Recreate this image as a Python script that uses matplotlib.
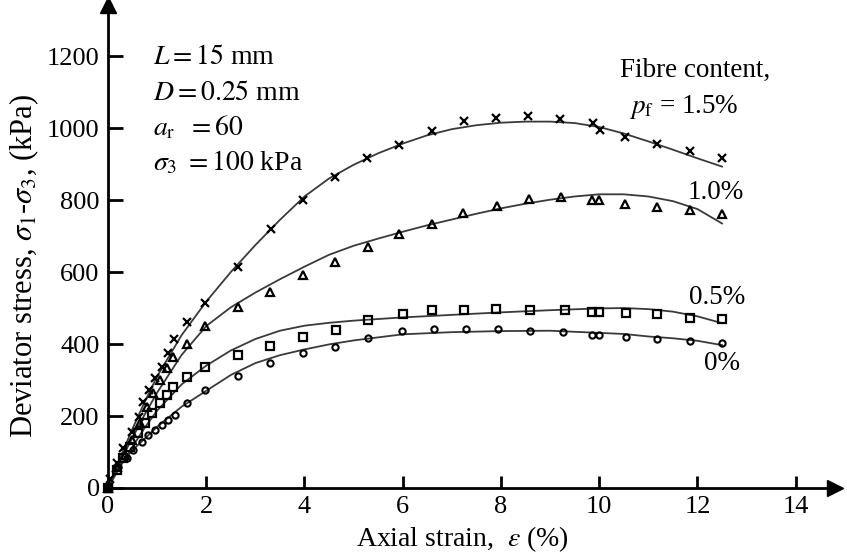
import numpy as np
import matplotlib
matplotlib.use("Agg")
import matplotlib.pyplot as plt

plt.rcParams['font.family'] = ['Liberation Serif', 'DejaVu Serif']
plt.rcParams['mathtext.fontset'] = 'stix'

# ---- measured points (read from the figure) ----
# pf = 1.5 %  (x markers)
x15 = [0, 0.05, 0.18, 0.31, 0.49, 0.63, 0.71, 0.84, 0.96, 1.1, 1.22, 1.34, 1.61, 1.98, 2.65, 3.32,
       3.97, 4.62, 5.27, 5.93, 6.6, 7.25, 7.9, 8.55, 9.2, 9.88, 10.02, 10.53, 11.18, 11.85, 12.5]
y15 = [0, 25, 69, 111, 156, 197, 239, 272, 305, 336, 375, 414, 461, 514, 614, 719,
       800, 864, 917, 953, 992, 1019, 1028, 1033, 1025, 1014, 994, 975, 955, 936, 917]
# pf = 1.0 %  (triangles)
x10 = [0, 0.18, 0.35, 0.49, 0.65, 0.79, 0.92, 1.06, 1.2, 1.32, 1.61, 1.98, 2.65, 3.3,
       3.97, 4.62, 5.3, 5.93, 6.6, 7.23, 7.92, 8.57, 9.23, 9.86, 10.0, 10.53, 11.18, 11.85, 12.5]
y10 = [0, 58, 92, 133, 181, 225, 264, 300, 333, 364, 400, 450, 503, 544,
       592, 628, 669, 706, 733, 764, 783, 803, 808, 800, 800, 789, 781, 772, 761]
# pf = 0.5 %  (squares)
x05 = [0, 0.18, 0.31, 0.45, 0.61, 0.75, 0.9, 1.06, 1.2, 1.32, 1.61, 1.98, 2.65, 3.3, 3.97,
       4.64, 5.3, 6.0, 6.6, 7.25, 7.9, 8.6, 9.3, 9.86, 10.0, 10.55, 11.18, 11.85, 12.5]
y05 = [0, 50, 83, 115, 153, 181, 208, 236, 258, 281, 308, 336, 369, 394, 420,
       439, 467, 483, 494, 494, 497, 494, 494, 489, 489, 486, 483, 472, 469]
# pf = 0 %  (circles)
x00 = [0, 0.2, 0.39, 0.51, 0.69, 0.81, 0.96, 1.1, 1.22, 1.36, 1.61, 1.98, 2.65, 3.3, 3.97,
       4.62, 5.3, 5.99, 6.64, 7.29, 7.94, 8.6, 9.27, 9.86, 10.0, 10.55, 11.18, 11.85, 12.5]
y00 = [0, 58, 83, 106, 128, 147, 161, 175, 189, 203, 236, 272, 311, 347, 375,
       392, 417, 436, 442, 442, 442, 436, 433, 425, 425, 419, 414, 408, 403]

# ---- fitted curves ----
cx15 = [0, 0.25, 0.5, 0.75, 1, 1.5, 2, 2.5, 3, 3.5, 4, 4.5, 5, 5.5, 6, 6.5, 7, 7.5, 8,
        8.5, 9, 9.5, 10, 10.5, 11, 11.5, 12, 12.5]
cy15 = [0, 85, 165, 240, 310, 425, 518, 600, 675, 745, 810, 860, 898, 930, 957, 980, 997,
        1008, 1015, 1018, 1018, 1014, 1003, 985, 963, 940, 916, 893]
cx10 = [0, 0.25, 0.5, 0.75, 1, 1.5, 2, 2.5, 3, 3.5, 4, 4.5, 5, 5.5, 6, 6.5, 7, 7.5, 8,
        8.5, 9, 9.5, 10, 10.5, 11, 11.5, 12, 12.5]
cy10 = [0, 75, 140, 205, 265, 370, 450, 502, 543, 580, 615, 648, 673, 693, 712, 730, 746,
        762, 777, 790, 801, 810, 816, 816, 810, 797, 775, 735]
cx05 = [0, 0.25, 0.5, 0.75, 1, 1.5, 2, 2.5, 3, 3.5, 4, 4.5, 5, 6, 7, 8, 9, 10, 10.5,
        11, 11.5, 12, 12.5]
cy05 = [0, 60, 115, 168, 215, 288, 340, 382, 414, 437, 451, 459, 465, 474, 481, 488, 494,
        499, 500, 497, 490, 477, 458]
cx00 = [0, 0.2, 0.5, 1, 1.5, 2, 2.5, 3, 3.5, 4, 4.5, 5, 6, 7, 8, 9, 10, 10.5, 11, 11.5,
        12, 12.5]
cy00 = [0, 58, 105, 170, 226, 270, 314, 347, 369, 385, 399, 410, 427, 433, 436, 437, 431,
        428, 421, 416, 409, 397]

fig = plt.figure(figsize=(8.47, 5.6), dpi=100)
ax = fig.add_axes([108/847, 1-488/560, (835-108)/847, (488-5)/560])
ax.set_xlim(0, 14.8)
ax.set_ylim(0, 1342)

lc = '#3a3a3a'
for cx, cy in [(cx15, cy15), (cx10, cy10), (cx05, cy05), (cx00, cy00)]:
    ax.plot(cx, cy, color=lc, lw=1.3, clip_on=False)

ax.plot(x15, y15, 'x', color='k', ms=6, mew=1.6, clip_on=False)
ax.plot(x10, y10, '^', mfc='none', mec='k', ms=5.5, mew=1.6, clip_on=False)
ax.plot(x05, y05, 's', mfc='none', mec='k', ms=6, mew=1.6, clip_on=False)
ax.plot(x00, y00, 'o', mfc='none', mec='k', ms=4.5, mew=1.5, clip_on=False)
ax.plot([0], [0], 's', color='k', ms=6, clip_on=False)

for s in ['top', 'right']:
    ax.spines[s].set_visible(False)
for s in ['left', 'bottom']:
    ax.spines[s].set_linewidth(2)
ax.plot(1, 0, '>k', ms=11, transform=ax.transAxes, clip_on=False)
ax.plot(0, 1, '^k', ms=11, transform=ax.transAxes, clip_on=False)

ax.set_xticks(range(0, 15, 2))
ax.set_yticks(range(0, 1201, 200))
ax.tick_params(direction='in', labelsize=19, width=2)
ax.tick_params(axis='y', length=11, pad=6)
ax.tick_params(axis='x', length=9, pad=6)

ax.set_xlabel(r'Axial strain,  $\varepsilon$ (%)', fontsize=20)
ax.set_ylabel(r'Deviator stress, $\sigma_1$-$\sigma_3$, (kPa)', fontsize=22)
ax.xaxis.set_label_coords(0.487, -0.075)
ax.yaxis.set_label_coords(-0.092, 0.46)

fs = 20
ax.text(0.92, 1197, r'$L = 15$ mm', fontsize=fs, va='center')
ax.text(0.92, 1097, r'$D = 0.25$ mm', fontsize=fs, va='center')
ax.text(0.92, 1000, r'$a_{\mathrm{r}}\ \ = 60$', fontsize=fs, va='center')
ax.text(0.92, 903, r'$\sigma_3\ = 100$ kPa', fontsize=fs, va='center')

ax.text(11.95, 1161, 'Fibre content,', fontsize=19.5, ha='center', va='center')
ax.text(11.73, 1058, r'$p_{\mathrm{f}}$ = 1.5%', fontsize=19.5, ha='center', va='center')
ax.text(12.38, 822, '1.0%', fontsize=19.5, ha='center', va='center')
ax.text(12.4, 530, '0.5%', fontsize=19.5, ha='center', va='center')
ax.text(12.5, 347, '0%', fontsize=19.5, ha='center', va='center')

fig.savefig('out.png', dpi=100)
